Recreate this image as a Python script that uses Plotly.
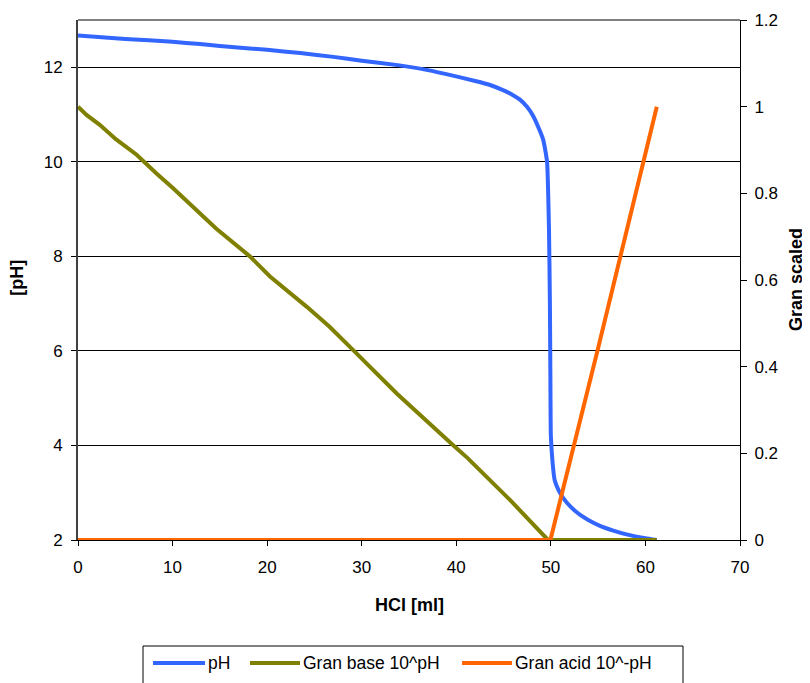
import plotly.graph_objects as go

# pH curve
ph_x = [0, 5, 10, 12.9, 15, 20, 23.5, 27, 30, 34, 37, 39.3, 42, 43.5, 45, 46, 46.7, 47.5,
        48.1, 48.7, 49.2, 49.4, 49.6, 49.8, 49.9, 49.95, 50.0, 50.2, 50.4, 50.8, 51.3,
        52.0, 53.1, 54.0, 55.2, 56.6, 58.0, 60.0, 61.2]
ph_y = [12.67, 12.60, 12.54, 12.49, 12.45, 12.37, 12.30, 12.22, 12.14, 12.04, 11.94, 11.84,
        11.71, 11.63, 11.51, 11.41, 11.32, 11.16, 10.98, 10.72, 10.46, 10.26, 10.0, 8.6,
        7.0, 5.5, 4.2, 3.6, 3.27, 3.06, 2.89, 2.72, 2.53, 2.42, 2.30, 2.20, 2.12, 2.04, 2.0]

# Gran base (scaled)
gb_x = [0, 0.9, 2.3, 4, 6.2, 7.3, 8.3, 10, 12.2, 14.6, 18.2, 20.3, 24.2, 26.6, 29.1,
        33.7, 39.7, 41.2, 45.7, 49.7, 61.2]
gb_y = [1.0, 0.981, 0.958, 0.925, 0.889, 0.866, 0.846, 0.813, 0.769, 0.719, 0.654, 0.608,
        0.538, 0.492, 0.438, 0.338, 0.218, 0.189, 0.092, 0.0, 0.0]

# Gran acid (scaled)
ga_x = [0, 49.95, 55.0, 59.7, 61.2]
ga_y = [0, 0, 0.443, 0.870, 1.0]

names = ["pH", "Gran base 10^pH", "Gran acid 10^-pH"]
colors = ["#3366FF", "#808000", "#FF6600"]

FONT = "Liberation Sans, Arial, sans-serif"

# plot area in figure pixels (for placing layout decorations)
L, R, T, B = 70, 78, 12, 151
W, H = 810, 683
PW, PH = W - L - R, H - T - B


def px(x):
    return (x - L) / PW


def py(y):
    return (H - B - y) / PH


fig = go.Figure()
fig.add_trace(go.Scatter(x=ph_x, y=ph_y, mode="lines", name=names[0],
                         line=dict(color=colors[0], width=4, shape="spline", smoothing=0.4),
                         yaxis="y"))
fig.add_trace(go.Scatter(x=gb_x, y=gb_y, mode="lines", name=names[1],
                         line=dict(color=colors[1], width=4), yaxis="y2"))
fig.add_trace(go.Scatter(x=ga_x, y=ga_y, mode="lines", name=names[2],
                         line=dict(color=colors[2], width=4), yaxis="y2"))

# manual legend (box, line samples and labels)
shapes = [dict(type="line", xref="paper", yref="paper", x0=0, x1=1, y0=1, y1=1,
               line=dict(color="#808080", width=2)),
          dict(type="rect", xref="paper", yref="paper", x0=px(135), x1=px(675),
               y0=py(638), y1=py(690), line=dict(color="black", width=1),
               fillcolor="white")]
annotations = []
leg_line_x = [(145, 197), (242, 292), (454, 504)]
leg_y = 655
for (a, b), nm, c in zip(leg_line_x, names, colors):
    shapes.append(dict(type="line", xref="paper", yref="paper", x0=px(a), x1=px(b),
                       y0=py(leg_y), y1=py(leg_y), line=dict(color=c, width=4)))
    annotations.append(dict(text=nm, xref="paper", yref="paper", x=px(b + 1), y=py(leg_y),
                            xanchor="left", yanchor="middle", showarrow=False,
                            font=dict(size=17.5)))

annotations += [
    dict(text="<b>[pH]</b>", xref="paper", yref="paper", x=px(8.7), y=py(270),
         xanchor="center", yanchor="middle", textangle=-90, showarrow=False,
         font=dict(size=18)),
    dict(text="<b>Gran scaled</b>", xref="paper", yref="paper", x=px(788), y=py(272),
         xanchor="center", yanchor="middle", textangle=-90, showarrow=False,
         font=dict(size=18)),
    dict(text="<b>HCl [ml]</b>", xref="paper", yref="paper", x=px(401), y=py(597),
         xanchor="center", yanchor="middle", showarrow=False, font=dict(size=18)),
]

fig.update_layout(
    width=W, height=H,
    margin=dict(l=L, r=R, t=T, b=B),
    paper_bgcolor="white", plot_bgcolor="white",
    font=dict(family=FONT, size=17, color="black"),
    xaxis=dict(range=[0, 70], dtick=10, ticks="outside", ticklen=5, tickcolor="black",
               showline=True, linecolor="black", linewidth=1, showgrid=False, zeroline=False,
               automargin=False, ticklabelstandoff=7),
    yaxis=dict(range=[2, 13], tickvals=[2, 4, 6, 8, 10, 12], ticks="outside", ticklen=5,
               tickcolor="black", showline=True, linecolor="#404040", linewidth=2,
               showgrid=True, gridcolor="#000000", gridwidth=1, zeroline=False,
               automargin=False, ticklabelstandoff=5),
    yaxis2=dict(range=[0, 1.2], dtick=0.2, overlaying="y", side="right", ticks="outside",
                ticklen=6, tickcolor="black", showline=True, linecolor="black", linewidth=1,
                showgrid=False, zeroline=False, automargin=False, ticklabelstandoff=4),
    showlegend=False,
    annotations=annotations,
    shapes=shapes,
)

fig.write_html("out.html")
